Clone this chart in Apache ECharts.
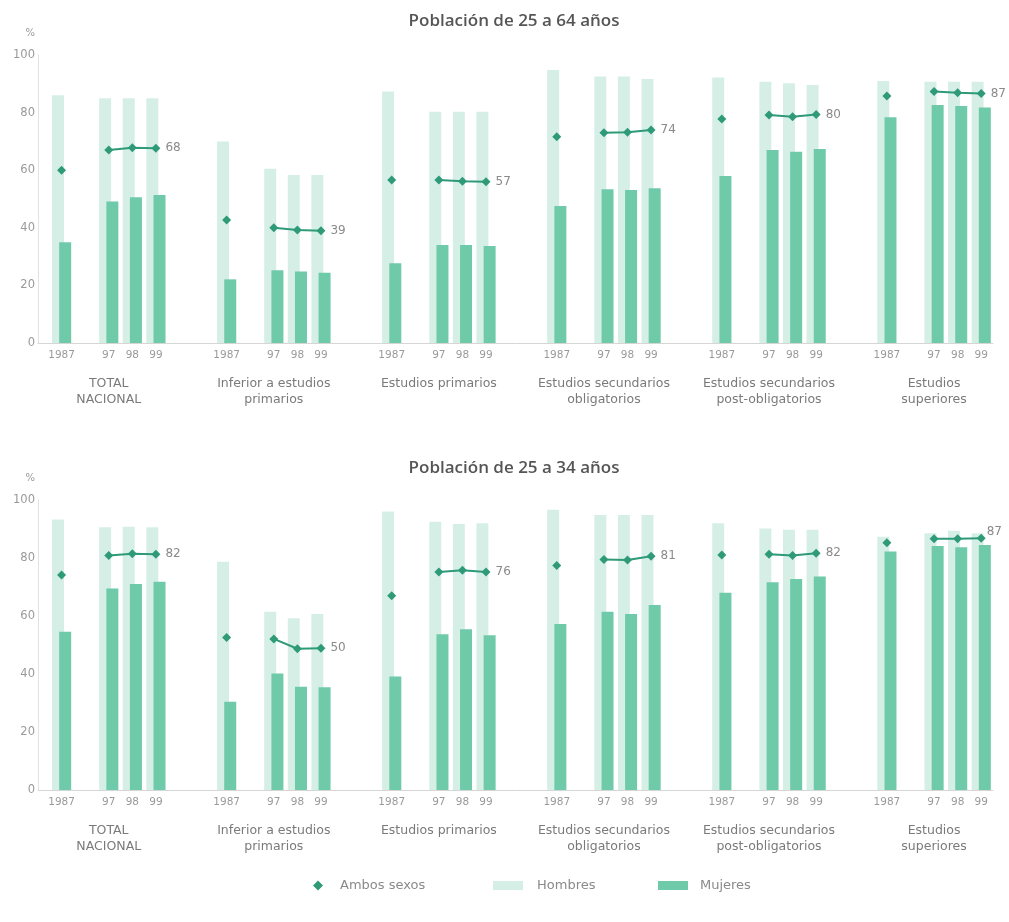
<!DOCTYPE html>
<html>
<head>
<meta charset="utf-8">
<script src="https://cdn.jsdelivr.net/npm/echarts@6/dist/echarts.min.js"></script>
<style>
  html, body { margin: 0; padding: 0; background: #ffffff; }
  #chart { width: 1009px; height: 922px; }
</style>
</head>
<body>
<div id="chart"></div>
<script>
// ---------- data ----------
const groupNames = ['TOTAL\nNACIONAL', 'Inferior a estudios\nprimarios', 'Estudios primarios',
  'Estudios secundarios\nobligatorios', 'Estudios secundarios\npost-obligatorios', 'Estudios\nsuperiores'];
const yearLabels = ['1987', '97', '98', '99'];
const titles = ['Población de 25 a 64 años', 'Población de 25 a 34 años'];
const legendNames = ['Ambos sexos', 'Hombres', 'Mujeres'];
const yTicks = [0, 20, 40, 60, 80, 100];

// Población de 25 a 64 años
const hombresTop = [[86, 85, 85, 85], [70, 60.5, 58.3, 58.3], [87.3, 80.3, 80.3, 80.3],
  [94.8, 92.5, 92.5, 91.7], [92.2, 90.7, 90.2, 89.6], [91, 90.7, 90.7, 90.7]];
const mujeresTop = [[35, 49.1, 50.6, 51.4], [22.1, 25.3, 24.8, 24.4], [27.7, 34, 34, 33.7],
  [47.6, 53.4, 53.1, 53.7], [58, 67, 66.4, 67.4], [78.4, 82.6, 82.3, 81.8]];
const ambosTop = [[60, 67, 67.8, 67.6], [42.7, 40, 39.2, 39], [56.6, 56.6, 56.2, 56],
  [71.6, 73, 73.2, 74], [77.8, 79.2, 78.6, 79.3], [85.8, 87.3, 86.9, 86.6]];
const endLabelsTop = [68, 39, 57, 74, 80, 87];

// Población de 25 a 34 años
const hombresBot = [[93.3, 90.6, 90.8, 90.6], [78.7, 61.5, 59.2, 60.7], [96, 92.5, 91.7, 92],
  [96.6, 94.8, 94.8, 94.8], [92, 90.2, 89.7, 89.7], [87.3, 88.5, 89.4, 88.5]];
const mujeresBot = [[54.6, 69.5, 71, 71.8], [30.4, 40.2, 35.6, 35.4], [39.1, 53.7, 55.4, 53.4],
  [57.2, 61.5, 60.7, 63.8], [68, 71.6, 72.8, 73.6], [82.2, 84.1, 83.7, 84.5]];
const ambosBot = [[74.1, 80.9, 81.5, 81.3], [52.6, 52.1, 48.7, 48.9], [67, 75.2, 75.8, 75.2],
  [77.4, 79.5, 79.3, 80.6], [81, 81.3, 80.9, 81.6], [85.3, 86.6, 86.6, 86.8]];
const endLabelsBot = [82, 50, 76, 81, 82, 87];

// ---------- layout helpers ----------
const SLOTS = 7;                 // slots per group: 1987, gap, 97, 98, 99, gap, gap
const yearSlot = [0, 2, 3, 4];
const COL_H = '#d6efe6';
const COL_M = '#6fcaa9';
const COL_A = '#2e9a78';
const FONT = "'DejaVu Sans', 'Open Sans', sans-serif";
const TFONT = "'Open Sans', 'Noto Sans', sans-serif";

function barData(arr) {
  const out = [];
  arr.forEach((g, gi) => g.forEach((v, yi) => out.push([gi * SLOTS + yearSlot[yi], v])));
  return out;
}
function lineData(arr, labels, lastLabelOffset) {
  const out = [];
  arr.forEach((g, gi) => {
    const base = gi * SLOTS;
    out.push([base + 0, g[0]]);
    out.push([base + 1, '-']);
    out.push([base + 2, g[1]]);
    out.push([base + 3, g[2]]);
    out.push({
      value: [base + 4, g[3]],
      label: {
        show: true, position: 'right', distance: 5,
        formatter: String(labels[gi]),
        offset: (gi === arr.length - 1 && lastLabelOffset) ? lastLabelOffset : [0, 0],
        color: '#8a8a8a', fontSize: 12, fontFamily: FONT
      }
    });
    out.push([base + 5, '-']);
  });
  return out;
}
function xLabel(v) {
  const r = Math.round(v);
  if (Math.abs(v - r) > 1e-6) return '';
  const g = Math.floor(r / SLOTS);
  const k = r - g * SLOTS;
  if (g < 0 || g >= groupNames.length) return '';
  const yi = yearSlot.indexOf(k);
  if (yi < 0) return '';
  if (k === 2) {
    return yearLabels[yi] + '\n{sp| }\n' + groupNames[g].split('\n').map(s => '{g|' + s + '}').join('\n');
  }
  return yearLabels[yi];
}

const grids = [
  { left: 38, right: 16, top: 55, height: 288 },
  { left: 38, right: 16, top: 500, height: 290 }
];

const xAxes = grids.map((_, i) => ({
  type: 'value', gridIndex: i, min: -1, max: 39.5, interval: 1,
  axisLine: { show: true, onZero: false, lineStyle: { color: '#d6d6d6', width: 1 } },
  axisTick: { show: false },
  splitLine: { show: false },
  axisLabel: {
    show: true, margin: 5, color: '#9a9a9a', fontSize: 10.5, fontFamily: FONT, lineHeight: 14,
    showMinLabel: false, showMaxLabel: false,
    formatter: xLabel,
    rich: {
      sp: { lineHeight: 14, fontSize: 4 },
      g: { fontSize: 12.5, color: '#7a7a7a', lineHeight: 16, fontFamily: FONT }
    }
  }
}));

const yAxes = grids.map((_, i) => ({
  type: 'value', gridIndex: i, min: yTicks[0], max: yTicks[yTicks.length - 1], interval: 20,
  name: '%', nameLocation: 'end', nameGap: 17,
  nameTextStyle: { color: '#9a9a9a', fontSize: 10, fontFamily: FONT, align: 'right', padding: [0, 3, 0, 0] },
  axisLine: { show: true, onZero: false, lineStyle: { color: '#e2e2e2', width: 1 } },
  axisTick: { show: false },
  splitLine: { show: false },
  axisLabel: { color: '#9a9a9a', fontSize: 11.5, fontFamily: FONT, margin: 3 }
}));

const datasets = [
  { h: hombresTop, m: mujeresTop, a: ambosTop, l: endLabelsTop, off: null },
  { h: hombresBot, m: mujeresBot, a: ambosBot, l: endLabelsBot, off: [-4, -6] }
];

const series = [];
datasets.forEach((d, i) => {
  series.push({
    name: legendNames[1], type: 'bar', xAxisIndex: i, yAxisIndex: i,
    barWidth: 12, barGap: '-40%',
    itemStyle: { color: COL_H }, data: barData(d.h), z: 2, silent: true
  });
  series.push({
    name: legendNames[2], type: 'bar', xAxisIndex: i, yAxisIndex: i,
    barWidth: 12, barGap: '-40%',
    itemStyle: { color: COL_M }, data: barData(d.m), z: 3, silent: true
  });
  series.push({
    name: legendNames[0], type: 'line', xAxisIndex: i, yAxisIndex: i,
    symbol: 'diamond', symbolSize: 9, connectNulls: false,
    lineStyle: { color: COL_A, width: 2 }, itemStyle: { color: COL_A },
    data: lineData(d.a, d.l, d.off), z: 5, silent: true
  });
});

const legendBase = {
  top: 874, orient: 'horizontal', selectedMode: false,
  textStyle: { color: '#8a8a8a', fontSize: 13, fontFamily: FONT }
};

const option = {
  backgroundColor: '#ffffff',
  animation: false,
  title: titles.map((t, i) => ({
    text: t, left: 509, top: i === 0 ? 8 : 455, textAlign: 'center',
    textStyle: { color: '#555', fontSize: 17, fontWeight: 600, fontFamily: TFONT }
  })),
  legend: [
    Object.assign({}, legendBase, {
      left: 308, data: [{ name: legendNames[0], icon: 'diamond' }], itemWidth: 10, itemHeight: 10,
      textStyle: Object.assign({}, legendBase.textStyle, { padding: [0, 0, 0, 12] })
    }),
    Object.assign({}, legendBase, {
      left: 488, data: [{ name: legendNames[1], icon: 'rect' }], itemWidth: 30, itemHeight: 9,
      textStyle: Object.assign({}, legendBase.textStyle, { padding: [0, 0, 0, 9] })
    }),
    Object.assign({}, legendBase, {
      left: 653, data: [{ name: legendNames[2], icon: 'rect' }], itemWidth: 30, itemHeight: 9,
      textStyle: Object.assign({}, legendBase.textStyle, { padding: [0, 0, 0, 7] })
    })
  ],
  grid: grids,
  xAxis: xAxes,
  yAxis: yAxes,
  series: series
};

const chart = echarts.init(document.getElementById('chart'), null, { renderer: 'canvas' });
chart.setOption(option);
</script>
</body>
</html>
